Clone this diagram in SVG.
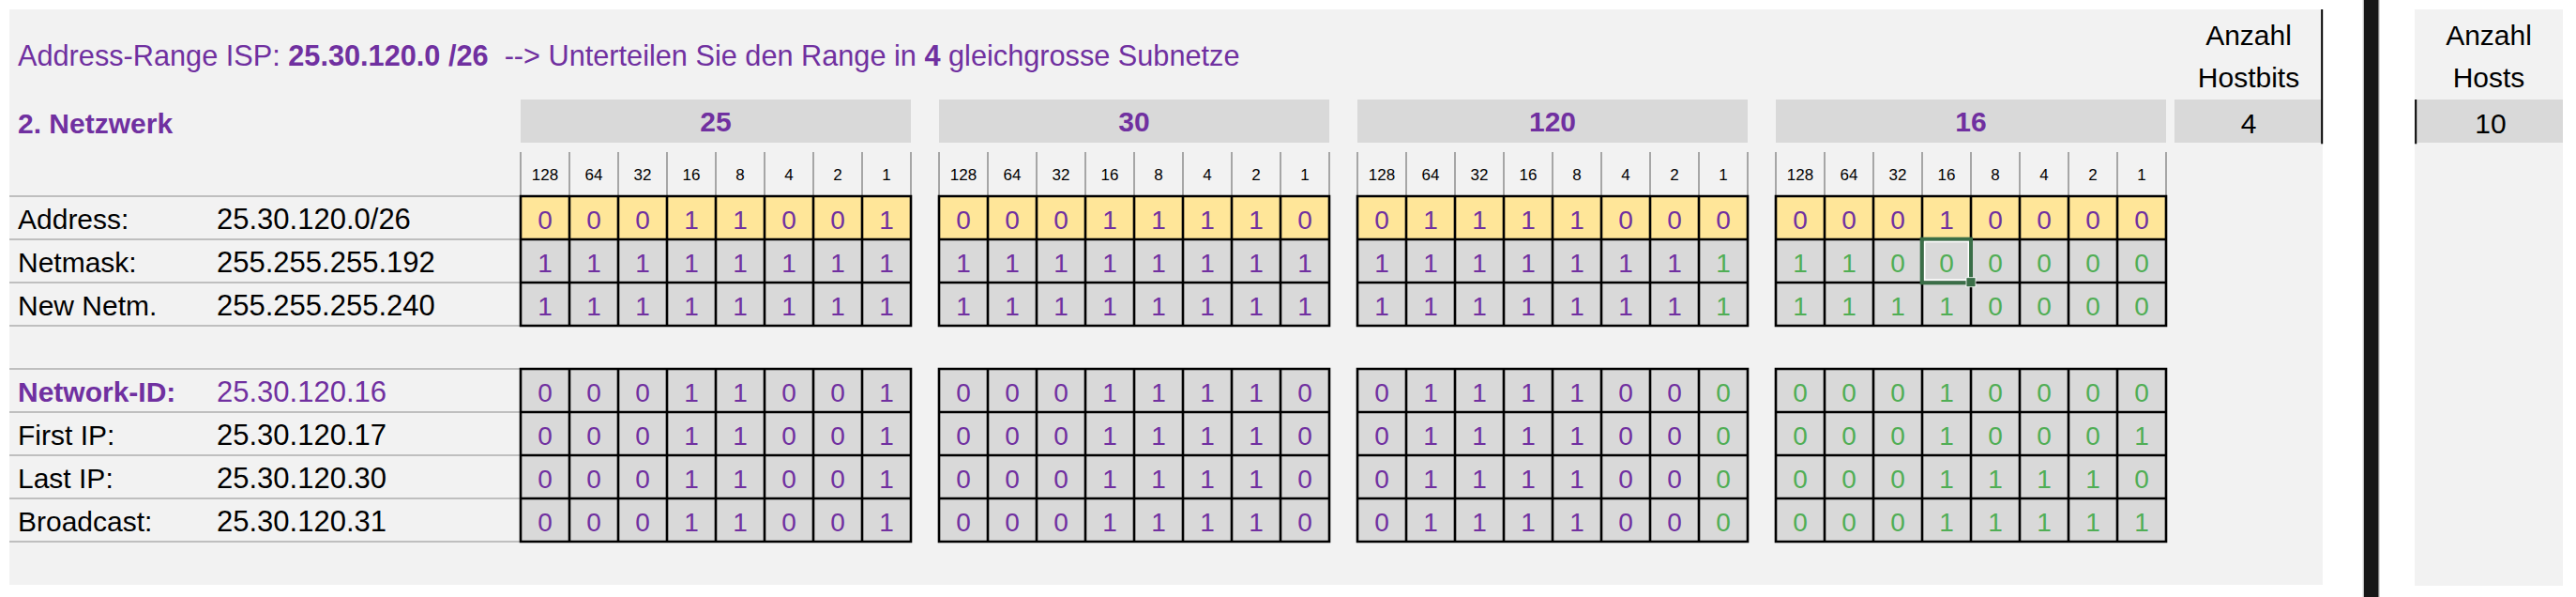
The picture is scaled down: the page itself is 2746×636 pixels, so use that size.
<svg xmlns="http://www.w3.org/2000/svg" width="2746" height="636" viewBox="0 0 2746 636">
<style>
text{font-family:"Liberation Sans",Arial,sans-serif;}
.t{font-size:30.7px;fill:#7030A0;}
.b{font-weight:bold;}
.lbl{font-size:30px;fill:#000;}
.val{font-size:31px;fill:#000;}
.pu{fill:#7030A0;}
.hdr{font-size:30px;font-weight:bold;fill:#7030A0;text-anchor:middle;}
.w{font-size:17px;fill:#000;text-anchor:middle;}
.bit{font-size:28px;fill:#7030A0;text-anchor:middle;}
.g{fill:#50AE55;}
.az{font-size:30px;fill:#000;text-anchor:middle;}
.hbox{fill:#D9D9D9;}
.grid{fill:none;stroke:#000;stroke-width:2.6;}
.rl{stroke:#BFBFBF;stroke-width:2;}
.wl{stroke:#A6A6A6;stroke-width:2;}
</style>
<rect x="0" y="0" width="2746" height="636" fill="#FFFFFF"/>
<g id="panel-main">
<rect x="10" y="10" width="2466" height="613" fill="#F2F2F2"/>
</g>
<g id="panel-right">
<rect x="2574" y="10" width="158" height="614" fill="#F2F2F2"/>
</g>
<g id="separator">
<rect x="2518.7" y="0" width="18" height="636" fill="#BDBDBD"/>
<rect x="2520" y="0" width="15.4" height="636" fill="#161616"/>
</g>
<g id="title">
<text class="t" x="19" y="70" style="white-space:pre" xml:space="preserve">Address-Range ISP: <tspan class="b">25.30.120.0 /26</tspan>  --&gt; Unterteilen Sie den Range in <tspan class="b">4</tspan> gleichgrosse Subnetze</text>
<text class="t b" x="19" y="141.7" style="font-size:30px">2. Netzwerk</text>
</g>
<g id="headers">
<rect class="hbox" x="555" y="106" width="416" height="46"/>
<rect class="hbox" x="1001" y="106" width="416" height="46"/>
<rect class="hbox" x="1447" y="106" width="416" height="46"/>
<rect class="hbox" x="1893" y="106" width="416" height="46"/>
<text class="hdr" x="763" y="140">25</text>
<text class="hdr" x="1209" y="140">30</text>
<text class="hdr" x="1655" y="140">120</text>
<text class="hdr" x="2101" y="140">16</text>
</g>
<g id="hostbits">
<rect class="hbox" x="2318" y="106" width="157" height="46"/>
<text class="az" x="2397" y="48">Anzahl</text>
<text class="az" x="2397" y="93">Hostbits</text>
<text class="az" x="2397" y="141.7">4</text>
<line x1="2475.2" y1="10" x2="2475.2" y2="153.3" stroke="#000" stroke-width="2"/>
</g>
<g id="hosts">
<rect class="hbox" x="2574" y="106" width="158" height="46"/>
<text class="az" x="2653" y="48">Anzahl</text>
<text class="az" x="2653" y="93">Hosts</text>
<text class="az" x="2655" y="141.7">10</text>
<line x1="2575.2" y1="106" x2="2575.2" y2="153.3" stroke="#000" stroke-width="2"/>
</g>
<g id="weights">
<path class="wl" d="M555 162V209M607 162V209M659 162V209M711 162V209M763 162V209M815 162V209M867 162V209M919 162V209M971 162V209
M1001 162V209M1053 162V209M1105 162V209M1157 162V209M1209 162V209M1261 162V209M1313 162V209M1365 162V209M1417 162V209
M1447 162V209M1499 162V209M1551 162V209M1603 162V209M1655 162V209M1707 162V209M1759 162V209M1811 162V209M1863 162V209
M1893 162V209M1945 162V209M1997 162V209M2049 162V209M2101 162V209M2153 162V209M2205 162V209M2257 162V209M2309 162V209"/>
<text class="w" y="191.7"><tspan x="581">128</tspan><tspan x="633">64</tspan><tspan x="685">32</tspan><tspan x="737">16</tspan><tspan x="789">8</tspan><tspan x="841">4</tspan><tspan x="893">2</tspan><tspan x="945">1</tspan></text>
<text class="w" y="191.7"><tspan x="1027">128</tspan><tspan x="1079">64</tspan><tspan x="1131">32</tspan><tspan x="1183">16</tspan><tspan x="1235">8</tspan><tspan x="1287">4</tspan><tspan x="1339">2</tspan><tspan x="1391">1</tspan></text>
<text class="w" y="191.7"><tspan x="1473">128</tspan><tspan x="1525">64</tspan><tspan x="1577">32</tspan><tspan x="1629">16</tspan><tspan x="1681">8</tspan><tspan x="1733">4</tspan><tspan x="1785">2</tspan><tspan x="1837">1</tspan></text>
<text class="w" y="191.7"><tspan x="1919">128</tspan><tspan x="1971">64</tspan><tspan x="2023">32</tspan><tspan x="2075">16</tspan><tspan x="2127">8</tspan><tspan x="2179">4</tspan><tspan x="2231">2</tspan><tspan x="2283">1</tspan></text>
</g>
<g id="labels">
<path class="rl" d="M10 209H555M10 255H555M10 301H555M10 347H555M10 393H555M10 439H555M10 485H555M10 531H555M10 577H555"/>
<text class="lbl" x="19" y="243.5">Address:</text><text class="val" x="231" y="243.5">25.30.120.0/26</text>
<text class="lbl" x="19" y="289.5">Netmask:</text><text class="val" x="231" y="289.5">255.255.255.192</text>
<text class="lbl" x="19" y="335.5">New Netm.</text><text class="val" x="231" y="335.5">255.255.255.240</text>
<text class="lbl pu b" x="19" y="427.5">Network-ID:</text><text class="val pu" x="231" y="427.5">25.30.120.16</text>
<text class="lbl" x="19" y="473.5">First IP:</text><text class="val" x="231" y="473.5">25.30.120.17</text>
<text class="lbl" x="19" y="519.5">Last IP:</text><text class="val" x="231" y="519.5">25.30.120.30</text>
<text class="lbl" x="19" y="565.5">Broadcast:</text><text class="val" x="231" y="565.5">25.30.120.31</text>
</g>
<g id="fills">
<rect x="555" y="209" width="416" height="46" fill="#FFE699"/>
<rect x="1001" y="209" width="416" height="46" fill="#FFE699"/>
<rect x="1447" y="209" width="416" height="46" fill="#FFE699"/>
<rect x="1893" y="209" width="416" height="46" fill="#FFE699"/>
<rect x="555" y="255" width="416" height="92" fill="#D9D9D9"/>
<rect x="1001" y="255" width="416" height="92" fill="#D9D9D9"/>
<rect x="1447" y="255" width="416" height="92" fill="#D9D9D9"/>
<rect x="1893" y="255" width="416" height="92" fill="#D9D9D9"/>
<rect x="555" y="393" width="416" height="184" fill="#D9D9D9"/>
<rect x="1001" y="393" width="416" height="184" fill="#D9D9D9"/>
<rect x="1447" y="393" width="416" height="184" fill="#D9D9D9"/>
<rect x="1893" y="393" width="416" height="184" fill="#D9D9D9"/>
</g>
<g id="grid">
<path class="grid" d="M555 209h416v138h-416zM555 255h416M555 301h416M607 209v138M659 209v138M711 209v138M763 209v138M815 209v138M867 209v138M919 209v138
M1001 209h416v138h-416zM1001 255h416M1001 301h416M1053 209v138M1105 209v138M1157 209v138M1209 209v138M1261 209v138M1313 209v138M1365 209v138
M1447 209h416v138h-416zM1447 255h416M1447 301h416M1499 209v138M1551 209v138M1603 209v138M1655 209v138M1707 209v138M1759 209v138M1811 209v138
M1893 209h416v138h-416zM1893 255h416M1893 301h416M1945 209v138M1997 209v138M2049 209v138M2101 209v138M2153 209v138M2205 209v138M2257 209v138
M555 393h416v184h-416zM555 439h416M555 485h416M555 531h416M607 393v184M659 393v184M711 393v184M763 393v184M815 393v184M867 393v184M919 393v184
M1001 393h416v184h-416zM1001 439h416M1001 485h416M1001 531h416M1053 393v184M1105 393v184M1157 393v184M1209 393v184M1261 393v184M1313 393v184M1365 393v184
M1447 393h416v184h-416zM1447 439h416M1447 485h416M1447 531h416M1499 393v184M1551 393v184M1603 393v184M1655 393v184M1707 393v184M1759 393v184M1811 393v184
M1893 393h416v184h-416zM1893 439h416M1893 485h416M1893 531h416M1945 393v184M1997 393v184M2049 393v184M2101 393v184M2153 393v184M2205 393v184M2257 393v184"/>
</g>
<g id="byte1">
<text class="bit" x="581 633 685 737 789 841 893 945" y="243.5">00011001</text>
<text class="bit" x="581 633 685 737 789 841 893 945" y="289.5">11111111</text>
<text class="bit" x="581 633 685 737 789 841 893 945" y="335.5">11111111</text>
<text class="bit" x="581 633 685 737 789 841 893 945" y="427.5">00011001</text>
<text class="bit" x="581 633 685 737 789 841 893 945" y="473.5">00011001</text>
<text class="bit" x="581 633 685 737 789 841 893 945" y="519.5">00011001</text>
<text class="bit" x="581 633 685 737 789 841 893 945" y="565.5">00011001</text>
</g>
<g id="byte2">
<text class="bit" x="1027 1079 1131 1183 1235 1287 1339 1391" y="243.5">00011110</text>
<text class="bit" x="1027 1079 1131 1183 1235 1287 1339 1391" y="289.5">11111111</text>
<text class="bit" x="1027 1079 1131 1183 1235 1287 1339 1391" y="335.5">11111111</text>
<text class="bit" x="1027 1079 1131 1183 1235 1287 1339 1391" y="427.5">00011110</text>
<text class="bit" x="1027 1079 1131 1183 1235 1287 1339 1391" y="473.5">00011110</text>
<text class="bit" x="1027 1079 1131 1183 1235 1287 1339 1391" y="519.5">00011110</text>
<text class="bit" x="1027 1079 1131 1183 1235 1287 1339 1391" y="565.5">00011110</text>
</g>
<g id="byte3">
<text class="bit" x="1473 1525 1577 1629 1681 1733 1785 1837" y="243.5">01111000</text>
<text class="bit" x="1473 1525 1577 1629 1681 1733 1785" y="289.5">1111111<tspan class="g" x="1837">1</tspan></text>
<text class="bit" x="1473 1525 1577 1629 1681 1733 1785" y="335.5">1111111<tspan class="g" x="1837">1</tspan></text>
<text class="bit" x="1473 1525 1577 1629 1681 1733 1785" y="427.5">0111100<tspan class="g" x="1837">0</tspan></text>
<text class="bit" x="1473 1525 1577 1629 1681 1733 1785" y="473.5">0111100<tspan class="g" x="1837">0</tspan></text>
<text class="bit" x="1473 1525 1577 1629 1681 1733 1785" y="519.5">0111100<tspan class="g" x="1837">0</tspan></text>
<text class="bit" x="1473 1525 1577 1629 1681 1733 1785" y="565.5">0111100<tspan class="g" x="1837">0</tspan></text>
</g>
<g id="byte4">
<text class="bit" x="1919 1971 2023 2075 2127 2179 2231 2283" y="243.5">00010000</text>
<text class="bit g" x="1919 1971 2023 2075 2127 2179 2231 2283" y="289.5">11000000</text>
<text class="bit g" x="1919 1971 2023 2075 2127 2179 2231 2283" y="335.5">11110000</text>
<text class="bit g" x="1919 1971 2023 2075 2127 2179 2231 2283" y="427.5">00010000</text>
<text class="bit g" x="1919 1971 2023 2075 2127 2179 2231 2283" y="473.5">00010001</text>
<text class="bit g" x="1919 1971 2023 2075 2127 2179 2231 2283" y="519.5">00011110</text>
<text class="bit g" x="1919 1971 2023 2075 2127 2179 2231 2283" y="565.5">00011111</text>
</g>
<g id="selection">
<rect x="2048.7" y="254.7" width="52.3" height="46.6" fill="none" stroke="#3A6E47" stroke-width="4"/>
<rect x="2051.7" y="257.5" width="46.6" height="40.6" fill="none" stroke="#FFFFFF" stroke-width="1.5"/>
<rect x="2096" y="295.7" width="10" height="10" fill="#3A6E47" stroke="#FFFFFF" stroke-width="0.8"/>
</g>
</svg>
